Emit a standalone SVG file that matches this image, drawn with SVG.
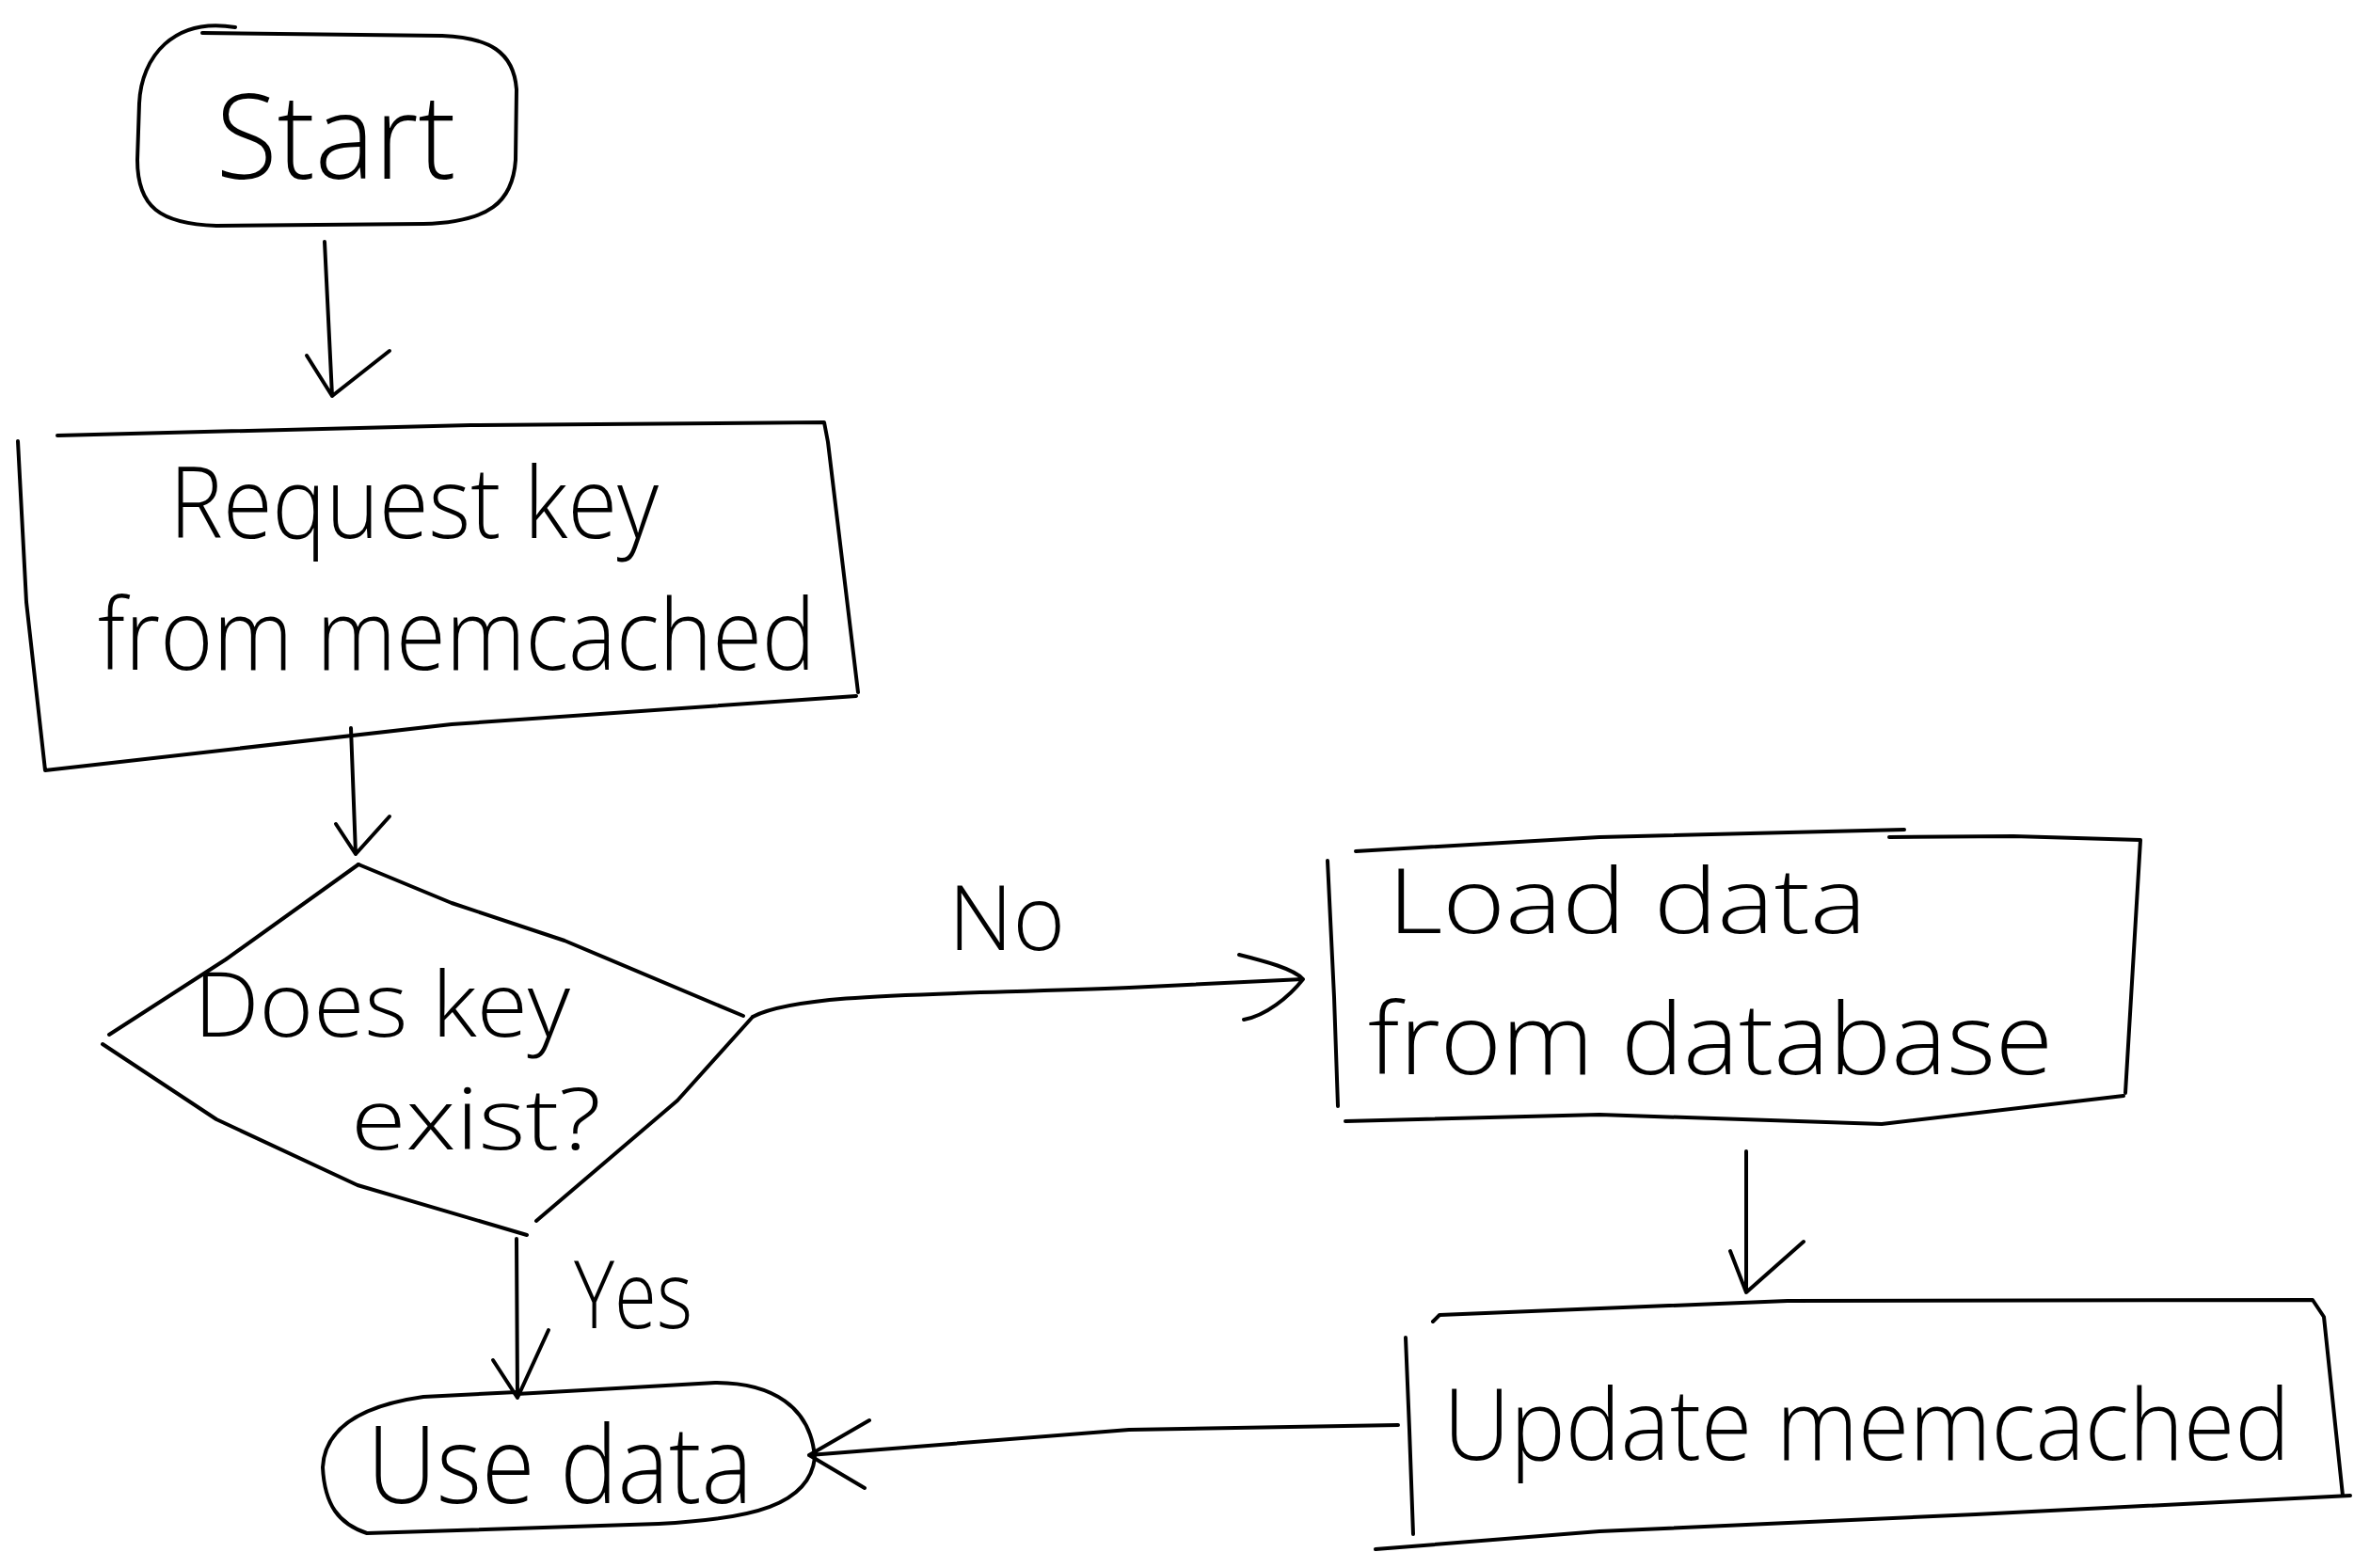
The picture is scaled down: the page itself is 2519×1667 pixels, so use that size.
<svg xmlns="http://www.w3.org/2000/svg" width="2519" height="1667" viewBox="0 0 2519 1667">
<style>
.s{fill:none;stroke:#000;stroke-width:4;stroke-linecap:round;stroke-linejoin:round}
.t{font-family:"Open Sans","DejaVu Sans",sans-serif;font-weight:300;fill:#000}
</style>
<rect width="2519" height="1667" fill="#fff"/>
<g id="start">
<path class="s" d="M250,29 C185,18 150,60 148,110 L146,170 C146,220 170,238 230,240 L450,238 C520,236 545,215 548,170 L549,95 C546,55 520,40 470,38 L215,35"/>
<text class="t" x="357" y="190" font-size="125" text-anchor="middle" textLength="255" lengthAdjust="spacingAndGlyphs">Start</text>
</g>
<g id="request">
<path class="s" d="M61,463 L500,452 L876,449 L880,470 L912,736"/>
<path class="s" d="M19,469 L28,640 L48,819 L480,770 L910,740"/>
<text class="t" x="180" y="572" font-size="105" textLength="520" lengthAdjust="spacingAndGlyphs">Request key</text>
<text class="t" x="104" y="712" font-size="105" textLength="763" lengthAdjust="spacingAndGlyphs">from memcached</text>
</g>
<g id="decision">
<path class="s" d="M381,919 L240,1020 L116,1100"/>
<path class="s" d="M109,1110 L230,1190 L380,1260 L560,1313"/>
<path class="s" d="M381,919 L480,960 L600,1000 L790,1080"/>
<path class="s" d="M800,1081 L720,1170 L570,1298"/>
<text class="t" x="206" y="1102" font-size="95" textLength="400" lengthAdjust="spacingAndGlyphs">Does key</text>
<text class="t" x="373" y="1222" font-size="90" textLength="266" lengthAdjust="spacingAndGlyphs">exist?</text>
</g>
<g id="load">
<path class="s" d="M1441,905 L1700,890 L2024,882"/>
<path class="s" d="M2008,890 L2140,889 L2275,893 L2259,1162"/>
<path class="s" d="M1411,915 L1418,1060 L1422,1176"/>
<path class="s" d="M1430,1192 L1700,1185 L2000,1195 L2257,1165"/>
<text class="t" x="1475" y="992" font-size="96" textLength="509" lengthAdjust="spacingAndGlyphs">Load data</text>
<text class="t" x="1454" y="1142" font-size="105" textLength="728" lengthAdjust="spacingAndGlyphs">from database</text>
</g>
<g id="update">
<path class="s" d="M1523,1405 L1530,1398 L1900,1383 L2458,1382 L2470,1400 L2490,1590"/>
<path class="s" d="M1494,1422 L1498,1520 L1502,1631"/>
<path class="s" d="M1462,1647 L1700,1628 L2100,1610 L2498,1590"/>
<text class="t" x="1534" y="1552" font-size="106" textLength="900" lengthAdjust="spacingAndGlyphs">Update memcached</text>
</g>
<g id="usedata">
<path class="s" d="M549,1480 L450,1485 C380,1495 345,1520 343,1560 C345,1600 360,1620 390,1630 L700,1620 C800,1615 860,1600 866,1550 C862,1495 820,1470 760,1470 L620,1478 L549,1482"/>
<text class="t" x="390" y="1598" font-size="115" textLength="410" lengthAdjust="spacingAndGlyphs">Use data</text>
</g>
<g id="connectors">
<path class="s" d="M345,257 L353,421 M326,378 L353,421 L414,373"/>
<path class="s" d="M373,774 L378,908 M357,876 L378,908 L414,868"/>
<path class="s" d="M800,1081 C850,1055 1000,1058 1200,1050 L1385,1041 M1317,1015 C1345,1022 1375,1030 1385,1041 C1370,1060 1345,1080 1322,1084"/>
<path class="s" d="M1856,1224 L1856,1374 M1839,1330 L1856,1374 L1917,1320"/>
<path class="s" d="M549,1317 L550,1486 M524,1446 L550,1486 L583,1414"/>
<path class="s" d="M1486,1515 L1200,1520 L860,1547 M924,1510 L860,1547 L919,1582"/>
<text class="t" x="1008" y="1010" font-size="95">No</text>
<text class="t" x="610" y="1412" font-size="100" textLength="126" lengthAdjust="spacingAndGlyphs">Yes</text>
</g>
</svg>
